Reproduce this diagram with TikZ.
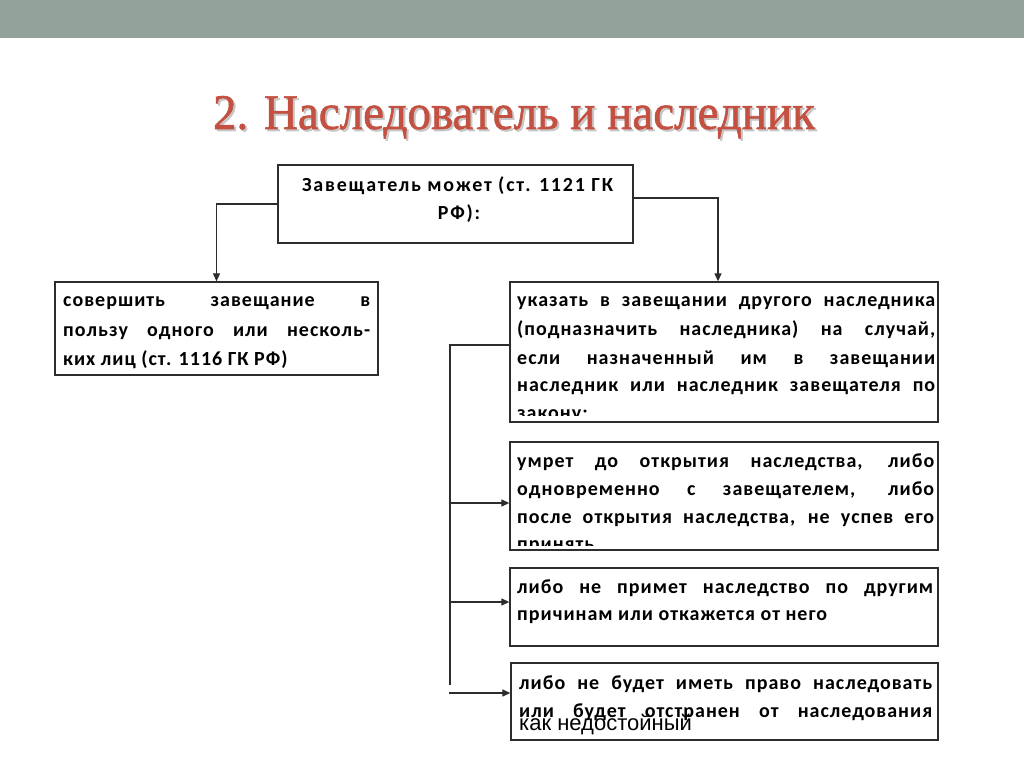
\documentclass[tikz,border=0pt]{standalone}
\usepackage{fontspec}
\setmainfont{Carlito}
\newfontfamily\titlef[FakeBold=1.2]{Liberation Serif}
\newfontfamily\bodyf[LetterSpace=5]{Carlito}
\newfontfamily\bodyw[LetterSpace=9]{Carlito}
\newfontfamily\overf{Liberation Sans}
\usetikzlibrary{arrows.meta}
\definecolor{barc}{RGB}{147,162,154}
\definecolor{titc}{RGB}{195,80,65}
\definecolor{linec}{RGB}{45,45,45}
\newcommand{\jl}[2]{\makebox[#1pt][s]{#2}}
\newcommand{\ttl}{\fontsize{47}{50}\selectfont 2. Наследователь и наследник}
\begin{document}
\begin{tikzpicture}[x=1pt,y=-1pt,
  box/.style={draw=linec, line width=1.3pt, inner sep=0pt},
  conn/.style={draw=linec, line width=1.2pt},
  arr/.style={conn, -{Triangle[length=8pt,width=7pt]}},
  txt/.style={inner sep=0pt, anchor=base west, font=\bodyf\bfseries\fontsize{20}{20}\selectfont},
  hdr/.style={inner sep=0pt, anchor=base, font=\bodyw\bfseries\fontsize{20}{20}\selectfont},
  ovl/.style={inner sep=0pt, anchor=base west, font=\overf\fontsize{22}{22}\selectfont},
  ttlsty/.style={inner sep=0pt, anchor=base, font=\titlef}
]
\useasboundingbox (0,0) rectangle (1024,767);
\fill[white] (0,0) rectangle (1024,767);
\fill[barc] (0,0) rectangle (1024,38);

% title
\node[ttlsty, text=black!22] (tsh) at (516,131) {\resizebox{602pt}{33pt}{\ttl}};
\node[ttlsty, text=titc] (title) at (514,129) {\resizebox{602pt}{33pt}{\ttl}};

% boxes
\node[box, minimum width=355pt, minimum height=78pt] (b0) at (455.5,204) {};
\node[box, minimum width=323pt, minimum height=93pt] (b1) at (216.5,328.5) {};
\node[box, minimum width=428pt, minimum height=140pt] (b2) at (724,352) {};
\node[box, minimum width=428pt, minimum height=108pt] (b3) at (724,496) {};
\node[box, minimum width=428pt, minimum height=78pt] (b4) at (724,607) {};
\node[box, minimum width=427pt, minimum height=77pt] (b5) at (724.5,701.5) {};

% connectors
\draw[arr] (b0.west) -| (b1.north);
\draw[arr] ([yshift=6pt]b0.east) -| ([xshift=-6pt]b2.north);
\coordinate (ta) at (450,345);
\coordinate (tb) at (450,685);
\draw[conn] ([yshift=7pt]b2.west) -- (ta) -- (tb);
\coordinate (a3) at (450,503);
\coordinate (a4) at (450,602);
\coordinate (a5) at (449,693);
\draw[arr] (a3) -- (a3 -| b3.west);
\draw[arr] (a4) -- (a4 -| b4.west);
\draw[arr] (a5) -- (a5 -| b5.west);

% texts
\node[hdr] (t0a) at (457.5,192) {Завещатель может (ст. 1121 ГК};
\node[hdr] (t0b) at (459,220) {РФ):};

\node[txt] (t1a) at (63,306) {\jl{307}{совершить завещание в}};
\node[txt] (t1b) at (63,336) {\jl{307}{пользу одного или несколь-}};
\node[txt] (t1c) at (63,365) {ких лиц (ст. 1116 ГК РФ)};

\begin{scope}
\clip (511,283) rectangle (937,415);
\node[txt] (t2a) at (517,306) {\jl{418}{указать в завещании другого наследника}};
\node[txt] (t2b) at (517,335) {\jl{418}{(подназначить наследника) на случай,}};
\node[txt] (t2c) at (517,364) {\jl{418}{если назначенный им в завещании}};
\node[txt] (t2d) at (517,391) {\jl{418}{наследник или наследник завещателя по}};
\node[txt] (t2e) at (517,419) {закону;};
\end{scope}

\begin{scope}
\clip (511,443) rectangle (937,545);
\node[txt] (t3a) at (517,467) {\jl{417}{умрет до открытия наследства, либо}};
\node[txt] (t3b) at (517,495) {\jl{417}{одновременно с завещателем, либо}};
\node[txt] (t3c) at (517,523) {\jl{417}{после открытия наследства, не успев его}};
\node[txt] (t3d) at (517,550) {принять,};
\end{scope}

\node[txt] (t4a) at (517,593) {\jl{416}{либо не примет наследство по другим}};
\node[txt] (t4b) at (517,620) {причинам или откажется от него};

\node[txt] (t5a) at (519,689) {\jl{413}{либо не будет иметь право наследовать}};
\node[txt] (t5b) at (519,717) {\jl{413}{или будет отстранен от наследования}};
\node[ovl] (t5c) at (519,730) {как недостойный};
\end{tikzpicture}
\end{document}
